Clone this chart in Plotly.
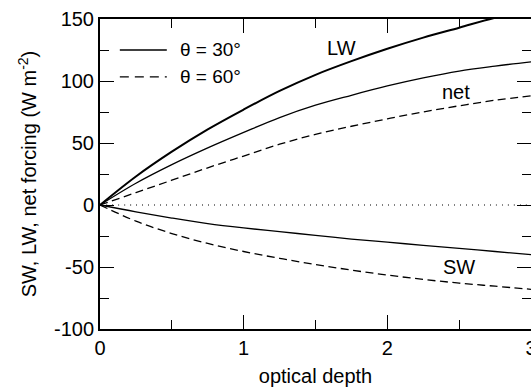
import plotly.graph_objects as go

# optical depth
tau = [0, 0.25, 0.5, 0.75, 1, 1.25, 1.5, 1.75, 2, 2.25, 2.5, 2.75, 3]
# longwave forcing (same for both angles)
lw = [0, 23, 43, 61, 77, 92, 105, 116, 126, 135, 143, 151, 157]
# shortwave forcing
sw_30 = [0, -5.5, -10.5, -15, -18.5, -21.5, -24.5, -27.5, -30, -32.5, -35, -37.5, -40]
sw_60 = [0, -13, -23, -31, -37.5, -43, -48, -52.5, -56.5, -60, -63, -65.5, -68]
# net forcing
net_30 = [0, 17.5, 32.5, 46, 58.5, 70.5, 80.5, 88.5, 96, 102.5, 108, 112, 115.5]
net_60 = [0, 10, 20, 30, 39.5, 49, 57, 63.5, 69.5, 75, 80, 84.5, 88]
zero = [0] * len(tau)

x_tick_vals = [0, 1, 2, 3]
x_tick_text = ["0", "1", "2", "3"]
y_tick_vals = [-100, -50, 0, 50, 100, 150]
y_tick_text = ["-100", "-50", "0", "50", "100", "150"]

legend_labels = ["θ = 30°", "θ = 60°"]
curve_labels = [("LW", 1.68, 127), ("net", 2.48, 91), ("SW", 2.50, -50)]

FONT = "Liberation Sans, Arial, Helvetica, sans-serif"
FS = 20
fig = go.Figure()

def add(y, width=1.3, dash="solid"):
    fig.add_trace(go.Scatter(x=tau, y=y, mode="lines", line_shape="spline",
                             line=dict(color="black", width=width, dash=dash),
                             showlegend=False, hoverinfo="skip"))

add(zero, width=1.2, dash="1px,5px")
add(lw, width=2)
add(net_30)
add(net_60, dash="8px,4.5px")
add(sw_30)
add(sw_60, dash="8px,4.5px")

for txt, x, y in curve_labels:
    fig.add_annotation(x=x, y=y, text=txt, showarrow=False,
                       font=dict(size=FS, family=FONT, color="black"))

# legend drawn manually
leg_y = [0.9, 0.813]
leg_dash = ["solid", "9px,6px"]
for lab, yy, dd in zip(legend_labels, leg_y, leg_dash):
    fig.add_shape(type="line", xref="paper", yref="paper", x0=0.046, x1=0.155,
                  y0=yy, y1=yy, line=dict(color="black", width=1.3, dash=dd))
    fig.add_annotation(xref="paper", yref="paper", x=0.182, y=yy, text=lab,
                       xanchor="left", yanchor="middle", showarrow=False,
                       font=dict(size=FS - 1, family=FONT, color="black"))

axis_common = dict(showline=True, linewidth=2, linecolor="black", mirror="ticks",
                   ticks="inside", ticklen=14, tickwidth=1.3, tickcolor="black",
                   showgrid=False, zeroline=False, ticklabeloverflow="allow",
                   tickfont=dict(size=FS, family=FONT, color="black"))

fig.update_xaxes(range=[0, 3], tickmode="array", tickvals=x_tick_vals, ticktext=x_tick_text,
                 minor=dict(dtick=0.5, tick0=0, ticks="inside", ticklen=9,
                            tickwidth=1.3, tickcolor="black", showgrid=False),
                 title=dict(text="optical depth", standoff=12,
                            font=dict(size=FS, family=FONT, color="black")),
                 **axis_common)
fig.update_yaxes(range=[-100, 150], tickmode="array", tickvals=y_tick_vals, ticktext=y_tick_text,
                 minor=dict(dtick=25, tick0=0, ticks="inside", ticklen=9,
                            tickwidth=1.3, tickcolor="black", showgrid=False),
                 title=dict(text="SW, LW, net forcing (W m<sup>-2</sup>)", standoff=12,
                            font=dict(size=FS, family=FONT, color="black")),
                 **axis_common)

fig.update_layout(width=531, height=387,
                  margin=dict(l=100, r=0, t=19, b=58, autoexpand=False),
                  plot_bgcolor="white", paper_bgcolor="white",
                  font=dict(family=FONT, size=FS, color="black"),
                  showlegend=False)

fig.write_html("out.html", config={"displayModeBar": False},
               post_script="document.body.style.margin='0px';document.body.style.overflow='hidden';")
